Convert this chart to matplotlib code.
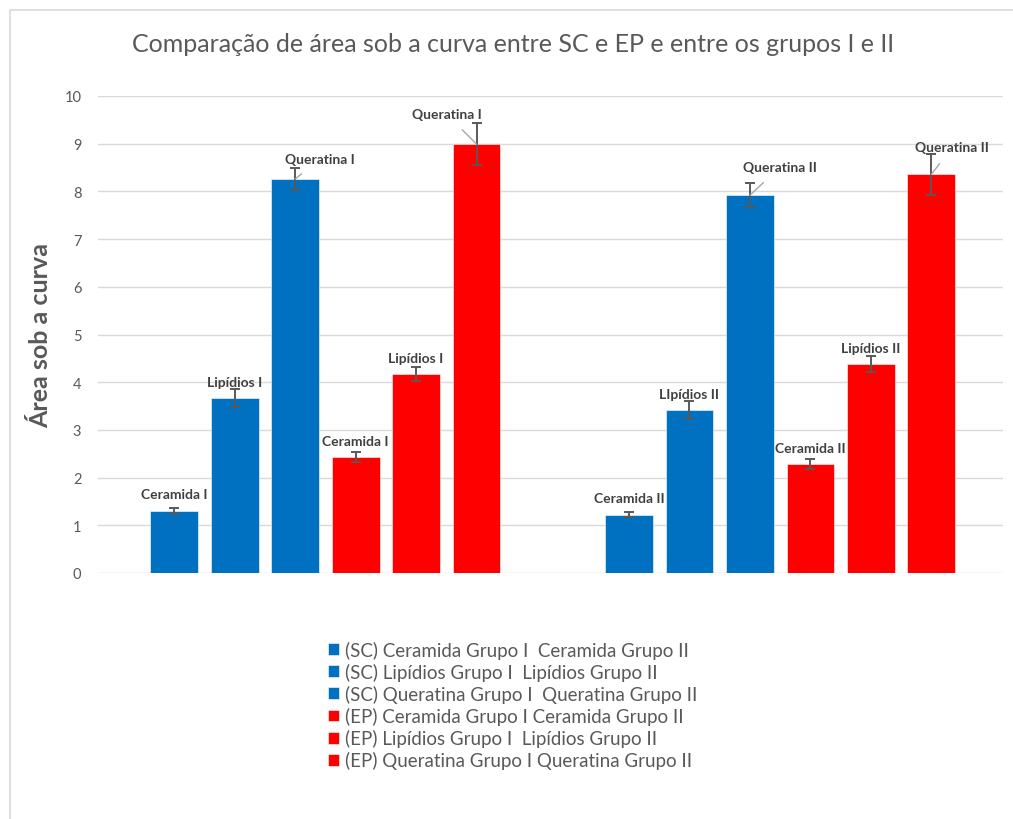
import numpy as np
import matplotlib.pyplot as plt
from matplotlib.patches import Rectangle

plt.rcParams['font.family'] = ['Lato', 'DejaVu Sans']

# --- DATA ---
groups = ['Grupo I', 'Grupo II']
series_names = [
    '(SC) Ceramida Grupo I  Ceramida Grupo II',
    '(SC) Lipídios Grupo I  Lipídios Grupo II',
    '(SC) Queratina Grupo I  Queratina Grupo II',
    '(EP) Ceramida Grupo I Ceramida Grupo II',
    '(EP) Lipídios Grupo I  Lipídios Grupo II',
    '(EP) Queratina Grupo I Queratina Grupo II',
]
sc_ceramida = [1.30, 1.22]
sc_lipidios = [3.67, 3.42]
sc_queratina = [8.26, 7.92]
ep_ceramida = [2.43, 2.28]
ep_lipidios = [4.17, 4.38]
ep_queratina = [8.99, 8.36]

err_sc_ceramida = [0.06, 0.05]
err_sc_lipidios = [0.19, 0.19]
err_sc_queratina = [0.23, 0.25]
err_ep_ceramida = [0.10, 0.10]
err_ep_lipidios = [0.15, 0.16]
err_ep_queratina = [0.44, 0.43]

lbl_sc_ceramida = ['Ceramida I', 'Ceramida II']
lbl_sc_lipidios = ['Lipídios I', 'LIpídios II']
lbl_sc_queratina = ['Queratina I', 'Queratina II']
lbl_ep_ceramida = ['Ceramida I', 'Ceramida II']
lbl_ep_lipidios = ['Lipídios I', 'Lipídios II']
lbl_ep_queratina = ['Queratina I', 'Queratina II']

series = [sc_ceramida, sc_lipidios, sc_queratina, ep_ceramida, ep_lipidios, ep_queratina]
errors = [err_sc_ceramida, err_sc_lipidios, err_sc_queratina,
          err_ep_ceramida, err_ep_lipidios, err_ep_queratina]
labels = [lbl_sc_ceramida, lbl_sc_lipidios, lbl_sc_queratina,
          lbl_ep_ceramida, lbl_ep_lipidios, lbl_ep_queratina]
colors = ['#0070C0'] * 3 + ['#FF0000'] * 3

# label offsets (pixels) from bar top
label_offsets = [
    [(0, 17), (0, 17)],
    [(0, 16), (0, 16)],
    [(25, 20), (30, 28)],
    [(0, 16), (0, 16)],
    [(0, 16), (0, 16)],
    [(-30, 30), (21, 27)],
]
leader = [False, False, True, False, False, True]

# --- PLOT ---
fig = plt.figure(figsize=(10.13, 8.2), dpi=100)
ax = fig.add_axes([98 / 1013, 1 - 574 / 820, 905 / 1013, 477 / 820])

x = np.arange(len(groups))
step = 0.133
width = 0.105
handles = []
for i, (vals, errs) in enumerate(zip(series, errors)):
    pos = x + (i - 2.5) * step
    b = ax.bar(pos, vals, width, color=colors[i], edgecolor='white', linewidth=0.4,
               label=series_names[i], zorder=2)
    ax.errorbar(pos, vals, yerr=errs, fmt='none', ecolor='#595959', elinewidth=1.4,
                capsize=3.5, capthick=1.4, zorder=3)
    handles.append(b)
    for j in range(len(groups)):
        dx, dy = label_offsets[i][j]
        arrow = None
        if leader[i]:
            arrow = dict(arrowstyle='-', color='#a6a6a6', lw=1, shrinkA=7, shrinkB=0)
        ax.annotate(labels[i][j], xy=(pos[j], vals[j]), xytext=(dx, dy),
                    textcoords='offset pixels', ha='center', va='center',
                    fontsize=10, fontweight='bold', color='#404040', zorder=4,
                    arrowprops=arrow)

ax.set_xlim(-0.5, 1.49)
ax.set_ylim(0, 10)
ax.set_yticks(range(0, 11))
ax.set_xticks([])
ax.grid(axis='y', color='#d9d9d9', linewidth=1, zorder=0)
ax.set_axisbelow(True)
for s in ax.spines.values():
    s.set_visible(False)
ax.tick_params(axis='y', length=0, labelsize=10.5, labelcolor='#595959', pad=12)
ax.set_ylabel('Área sob a curva', fontsize=18, fontweight='bold', color='#595959',
              labelpad=9)

fig.text(0.506, 1 - 44 / 820, 'Comparação de área sob a curva entre SC e EP e entre os grupos I e II',
         ha='center', va='center', fontsize=18, color='#595959')

fig.legend(handles=handles, loc='upper left', bbox_to_anchor=(320 / 1013, 1 - 634 / 820),
           frameon=False, fontsize=13.5, labelcolor='#595959', handlelength=0.6,
           handleheight=0.6, handletextpad=0.35, labelspacing=0.22, borderaxespad=0)

fig.patches.append(Rectangle((10 / 1013, -0.1), 1.2, 1 - 11 / 820 + 0.1,
                             transform=fig.transFigure, fill=False,
                             edgecolor='#d9d9d9', linewidth=1.2))

fig.savefig('out.png', dpi=100)
